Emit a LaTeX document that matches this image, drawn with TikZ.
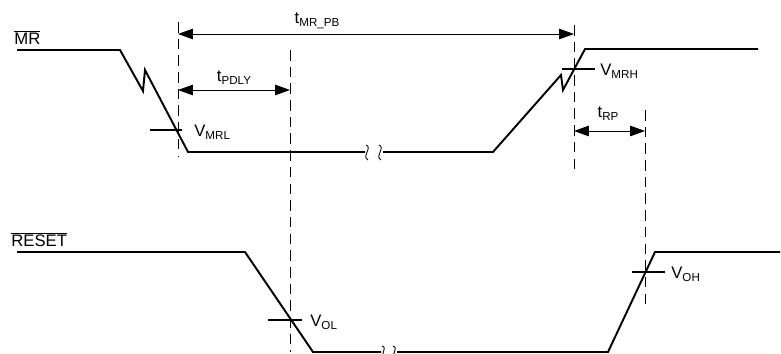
\documentclass[tikz,border=0pt]{standalone}
\usepackage{fontspec}
\setmainfont{Liberation Sans}
\usepackage{tikz}
\usetikzlibrary{arrows.meta}
\newcommand{\lo}[1]{\raisebox{-0.35ex}{\fontsize{6.6}{7}\selectfont #1}}
\begin{document}
\begin{tikzpicture}[
  x=0.02cm, y=-0.02cm,
  sig/.style={line width=1.1pt, line join=miter},
  guide/.style={line width=0.5pt, dash pattern=on 6pt off 3.5pt},
  dim/.style={{Triangle[length=8.5pt,width=6pt]}-{Triangle[length=8.5pt,width=6pt]}, line width=0.5pt},
  tick/.style={line width=0.6pt},
  brk/.style={line width=0.5pt},
  lbl/.style={font=\fontsize{9.5}{11}\selectfont, inner sep=0pt}
]
  \useasboundingbox (0,0) rectangle (781,354);

  % signal names
  \node[lbl, anchor=base west] (mrName) at (14,45) {$\overline{\mbox{MR}}$};
  \node[lbl, anchor=base west] (rstName) at (11,247) {$\overline{\mbox{RESET}}$};

  % MR waveform
  \draw[sig] (17,50) -- (120,50) -- (143,91) -- (145,70) -- (188,152) -- (365,152);
  \draw[brk] (366,145) .. controls (373,148) and (361,156) .. (368,160);
  \draw[brk] (379,145) .. controls (386,148) and (374,156) .. (381,160);
  \draw[sig] (383,152) -- (493,152) -- (561,75) -- (563,90) -- (585,49) -- (758,49);

  % RESET waveform
  \draw[sig] (17,252) -- (245,252) -- (313,352) -- (381,352);
  \draw[brk] (382,346) .. controls (388,348) and (380,354) .. (384,356);
  \draw[brk] (393,346) .. controls (399,348) and (391,354) .. (395,356);
  \draw[sig] (397,352) -- (608,352) -- (655,252) -- (780,252);

  % guide lines
  \coordinate (g1t) at (178,22);  \coordinate (g1b) at (178,156);
  \coordinate (g2t) at (290,50);  \coordinate (g2b) at (290,352);
  \coordinate (g3t) at (574,25);  \coordinate (g3b) at (574,172);
  \coordinate (g4t) at (645,110); \coordinate (g4b) at (645,308);
  \draw[guide] (g1t) -- (g1b);
  \draw[guide] (g2t) -- (g2b);
  \draw[guide] (g3t) -- (g3b);
  \draw[guide] (g4t) -- (g4b);

  % threshold ticks
  \draw[tick] (150,130) -- (182,130);
  \draw[tick] (562,69) -- (595,69);
  \draw[tick] (268,320) -- (302,320);
  \draw[tick] (632,272) -- (665,272);
  \node[lbl, anchor=west] (vmrl) at (194,132) {V\lo{MRL}};
  \node[lbl, anchor=west] (vmrh) at (600,71) {V\lo{MRH}};
  \node[lbl, anchor=west] (vol) at (310,322) {V\lo{OL}};
  \node[lbl, anchor=west] (voh) at (671,274) {V\lo{OH}};

  % timing arrows
  \coordinate (pbL) at (178,34);  \coordinate (pbR) at (574,34);
  \coordinate (pdL) at (178,90);  \coordinate (pdR) at (290,90);
  \coordinate (rpL) at (574,131); \coordinate (rpR) at (645,131);
  \draw[dim] (pbL) -- (pbR);
  \draw[dim] (pdL) -- (pdR);
  \draw[dim] (rpL) -- (rpR);
  \node[lbl] (tpb) at (317,21) {t\lo{MR\_PB}};
  \node[lbl] (tpd) at (234,78) {t\lo{PDLY}};
  \node[lbl] (trp) at (608,114) {t\lo{RP}};
\end{tikzpicture}
\end{document}
